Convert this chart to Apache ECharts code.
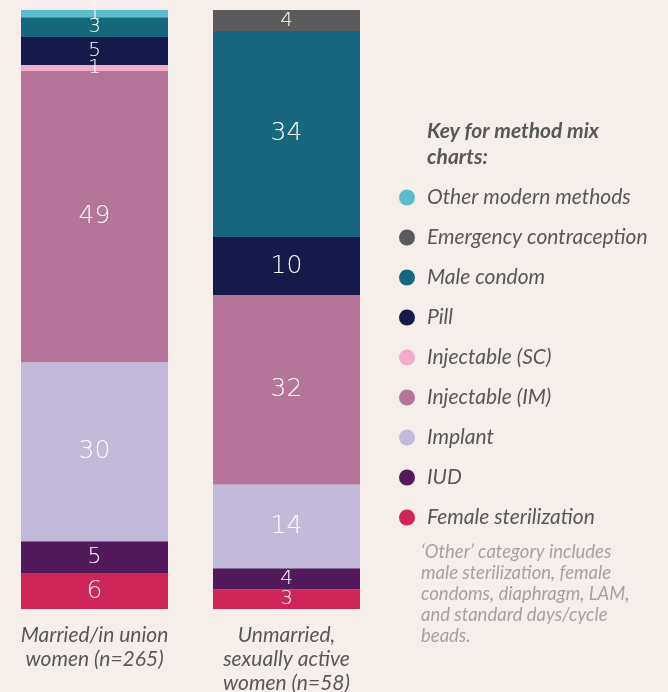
<!DOCTYPE html>
<html>
<head>
<meta charset="utf-8">
<script src="https://cdn.jsdelivr.net/npm/echarts@6/dist/echarts.min.js"></script>
<style>
html,body{margin:0;padding:0;background:#f5eeeb;}
#c{width:668px;height:692px;}
</style>
</head>
<body>
<div id="c"></div>
<script>
// Categories (bottom of chart)
const categories = ['Married/in union\nwomen (n=265)', 'Unmarried,\nsexually active\nwomen (n=58)'];

// Method names in stacking order (bottom to top)
const methods = ['Female sterilization', 'IUD', 'Implant', 'Injectable (IM)', 'Injectable (SC)', 'Pill', 'Male condom', 'Emergency contraception', 'Other modern methods'];
const colors = ['#cf2659', '#521a5a', '#c2bad8', '#b57598', '#f1adc9', '#161a4b', '#17677f', '#5b5a5c', '#5bbccb'];

// Percentages per method, [married, unmarried]
const femaleSterilization = [6.0, 3.3];
const iud = [5.3, 3.5];
const implant = [29.9, 14.0];
const injectableIM = [48.6, 31.6];
const injectableSC = [1.0, 0];
const pill = [4.7, 9.7];
const maleCondom = [3.3, 34.4];
const emergency = [0, 3.5];
const otherModern = [1.2, 0];

const seriesValues = [femaleSterilization, iud, implant, injectableIM, injectableSC, pill, maleCondom, emergency, otherModern];

const legendOrder = methods.slice().reverse();

function labelSize(v) {
  if (v >= 5.9) return 25;
  if (v >= 5) return 22;
  return 20;
}

const chart = echarts.init(document.getElementById('c'));
chart.setOption({
  backgroundColor: '#f5eeeb',
  animation: false,
  title: {
    text: 'Key for method mix\ncharts:',
    left: 427, top: 118, padding: 0,
    textStyle: {fontFamily: 'Lato', fontStyle: 'italic', fontWeight: 'bold', fontSize: 21, color: '#58585a', lineHeight: 26}
  },
  legend: {
    orient: 'vertical',
    left: 399, top: 187, padding: 0,
    data: legendOrder,
    icon: 'circle',
    itemWidth: 16, itemHeight: 16,
    itemGap: 19,
    selectedMode: false,
    textStyle: {fontFamily: 'Lato', fontStyle: 'italic', fontSize: 21, color: '#58585a', padding: [0, 0, 0, 7]}
  },
  graphic: [{
    type: 'text',
    left: 421, top: 542,
    style: {
      text: '‘Other’ category includes\nmale sterilization, female\ncondoms, diaphragm, LAM,\nand standard days/cycle\nbeads.',
      fontFamily: 'Lato', fontStyle: 'italic', fontSize: 18.5, lineHeight: 21, fill: '#a6a2a1'
    }
  }],
  grid: {left: -1.5, width: 384, top: 10, bottom: 83, containLabel: false, outerBoundsMode: 'none'},
  xAxis: {
    type: 'category',
    data: categories,
    axisLine: {show: false}, axisTick: {show: false},
    axisLabel: {
      margin: 14, interval: 0,
      fontFamily: 'Lato', fontStyle: 'italic', fontSize: 21, color: '#58585a', lineHeight: 24
    }
  },
  yAxis: {type: 'value', min: 0, max: 100, show: false},
  series: methods.map((m, i) => ({
    name: m,
    type: 'bar',
    stack: 'total',
    barWidth: 147,
    itemStyle: {color: colors[i]},
    label: {
      show: true,
      position: 'inside',
      color: '#ffffff',
      fontFamily: 'DejaVu Sans',
      fontWeight: 200,
      formatter: p => (p.value ? String(Math.round(p.value)) : '')
    },
    data: seriesValues[i].map(v => ({
      value: v,
      label: {fontSize: labelSize(v)}
    }))
  }))
});
</script>
</body>
</html>
